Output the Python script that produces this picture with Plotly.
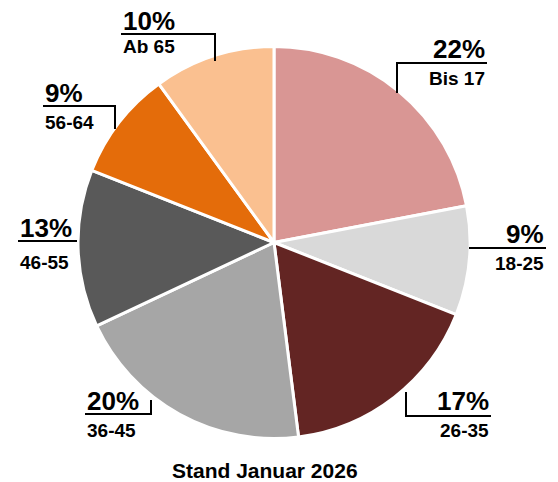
import plotly.graph_objects as go

W, H = 558, 482

labels = ["Bis 17", "18-25", "26-35", "36-45", "46-55", "56-64", "Ab 65"]
values = [22, 9, 17, 20, 13, 9, 10]
colors = ["#D99694", "#D9D9D9", "#632523", "#A6A6A6", "#595959", "#E46C0A", "#FAC090"]
title_text = "Stand Januar 2026"

FONT = "Liberation Sans, Arial, sans-serif"

fig = go.Figure(go.Pie(
    labels=labels, values=values, sort=False, direction="clockwise", rotation=0,
    marker=dict(colors=colors, line=dict(color="white", width=3)),
    textinfo="none", hoverinfo="label+percent", showlegend=False,
    domain=dict(x=[78 / W, 470 / W], y=[1 - 439 / H, 1 - 46 / H]),
))

def px(x):
    return x / W

def py(y):
    return 1 - y / H

# label layout: (anchor side, text x, pct y, label y, leader path points)
layout_info = {
    "Ab 65": ("left", 121, 21, 47, [(121, 34), (215, 34), (215, 61)]),
    "Bis 17": ("right", 487, 49, 79, [(487, 63), (397, 63), (397, 93)]),
    "18-25": ("right", 546, 234, 263, [(546, 248), (469, 248)]),
    "26-35": ("right", 491, 401, 430, [(491, 416), (406, 416), (406, 392)]),
    "36-45": ("left", 85, 401, 430, [(85, 414), (151, 414), (151, 400)]),
    "46-55": ("left", 18, 228, 262, [(18, 241), (77, 241)]),
    "56-64": ("left", 43, 93, 122, [(43, 106), (115, 106), (115, 129)]),
}

annotations = []
shapes = []
for lab, val in zip(labels, values):
    side, tx, pyc, lyc, pts = layout_info[lab]
    annotations.append(dict(
        x=px(tx), y=py(pyc), xref="paper", yref="paper", text=f"<b>{val}%</b>",
        showarrow=False, xanchor=side, yanchor="middle",
        font=dict(family=FONT, size=26, color="black"),
    ))
    annotations.append(dict(
        x=px(tx), y=py(lyc), xref="paper", yref="paper", text=f"<b>{lab}</b>",
        showarrow=False, xanchor=side, yanchor="middle",
        font=dict(family=FONT, size=19, color="black"),
    ))
    path = "M " + " L ".join(f"{px(x)},{py(y)}" for x, y in pts)
    shapes.append(dict(type="path", path=path, xref="paper", yref="paper",
                       line=dict(color="black", width=2)))

annotations.append(dict(
    x=px(265), y=py(470), xref="paper", yref="paper", text=f"<b>{title_text}</b>",
    showarrow=False, xanchor="center", yanchor="middle", borderpad=0,
    font=dict(family=FONT, size=21, color="black"),
))

fig.update_layout(
    width=W, height=H, margin=dict(l=0, r=0, t=0, b=0),
    paper_bgcolor="white", plot_bgcolor="white",
    annotations=annotations, shapes=shapes,
)

fig.write_html(
    "out.html",
    config={"displayModeBar": False},
    post_script="document.body.style.margin='0';document.body.style.overflow='hidden';",
)
